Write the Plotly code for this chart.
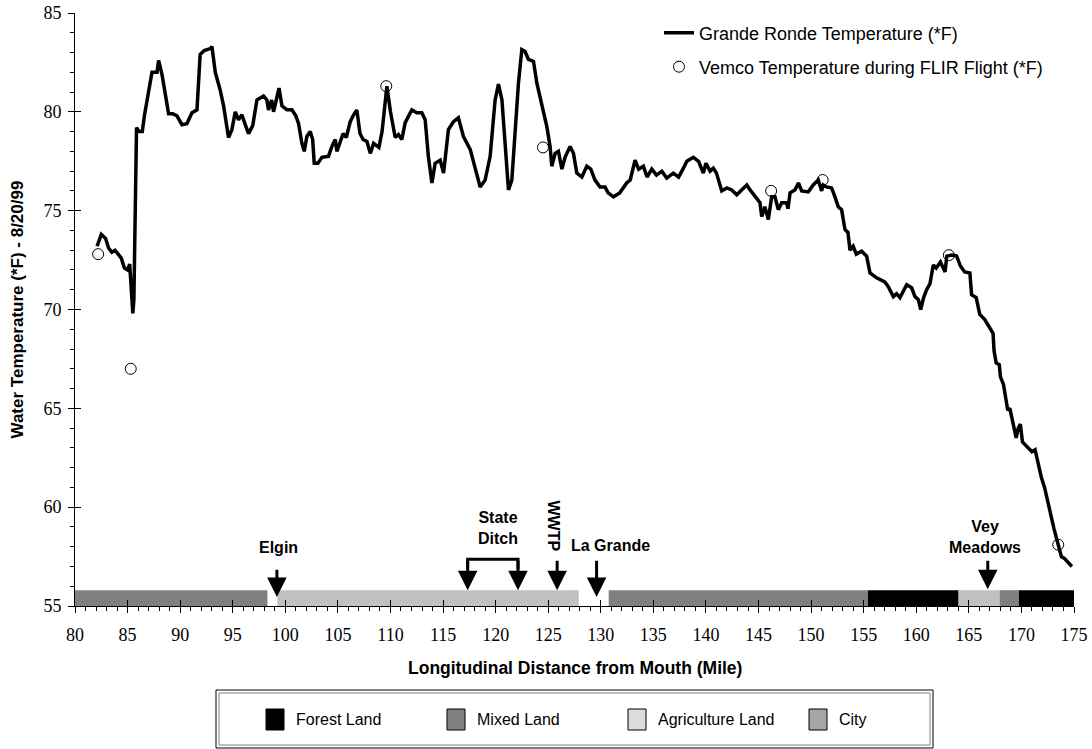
import plotly.graph_objects as go

# ---- Grande Ronde longitudinal temperature profile (8/20/99) ----
river_mile = [
    82.1, 82.5, 82.9, 83.2, 83.5, 83.8, 84.1, 84.4, 84.7, 85.0, 85.2, 85.35, 85.5, 85.6, 85.7, 85.8,
    85.85, 86.1, 86.4, 86.6, 86.84, 87.1, 87.32, 87.8, 87.95, 88.27, 88.58, 88.9, 89.3, 89.7, 90.17,
    90.64, 91.12, 91.6, 91.9, 92.29, 92.86, 93.02, 93.34, 93.81, 94.13, 94.6, 94.92, 95.24, 95.55,
    95.87, 96.19, 96.5, 96.9, 97.3, 97.93, 98.25, 98.4, 98.7, 98.88, 99.2, 99.4, 99.68, 100.15,
    100.63, 101.0, 101.26, 101.58, 101.8, 102.05, 102.37, 102.6, 102.75, 103.1, 103.48, 104.1,
    104.43, 104.75, 104.9, 105.2, 105.5, 105.8, 106.17, 106.5, 106.8, 107.1, 107.4, 107.76, 108.08,
    108.4, 108.9, 109.2, 109.66, 110.0, 110.45, 110.76, 111.08, 111.4, 112.03, 112.5, 112.98, 113.3,
    113.6, 113.94, 114.25, 114.73, 115.05, 115.51, 115.99, 116.46, 116.94, 117.58, 118.05, 118.53,
    119.0, 119.48, 119.95, 120.27, 120.6, 120.9, 121.22, 121.54, 121.86, 122.17, 122.49, 122.8,
    123.12, 123.6, 123.92, 124.4, 124.87, 125.18, 125.34, 125.66, 125.97, 126.3, 126.6, 127.08,
    127.4, 127.72, 128.2, 128.67, 129.05, 129.45, 129.93, 130.4, 130.7, 131.2, 131.8, 132.46, 132.8,
    133.26, 133.6, 134.05, 134.4, 134.85, 135.3, 135.8, 136.27, 136.9, 137.4, 137.86, 138.18, 138.8,
    139.3, 139.75, 140.0, 140.39, 140.7, 141.0, 141.5, 141.98, 142.45, 142.93, 143.4, 143.88, 144.2,
    144.67, 145.14, 145.3, 145.6, 145.93, 146.25, 146.56, 146.88, 147.2, 147.67, 147.8, 148.0, 148.46,
    148.8, 149.1, 149.73, 150.2, 150.68, 151.0, 151.15, 151.47, 151.95, 152.27, 152.58, 152.9, 153.22,
    153.5, 153.7, 154.0, 154.3, 154.8, 155.28, 155.6, 156.23, 157.0, 157.34, 157.82, 158.13, 158.45,
    159.09, 159.56, 159.88, 160.2, 160.42, 160.7, 160.99, 161.3, 161.62, 161.9, 162.3, 162.74, 162.9,
    163.4, 163.84, 164.2, 164.6, 165.1, 165.26, 165.7, 166.04, 166.5, 167.0, 167.3, 167.4, 167.6,
    167.9, 168.0, 168.3, 168.5, 168.7, 168.9, 169.2, 169.5, 169.7, 169.9, 170.1, 170.6, 171.0, 171.3,
    171.6, 171.9, 172.2, 172.5, 172.8, 173.1, 173.4, 173.6, 173.8, 174.1, 174.5, 174.8,
]
water_temp_f = [
    73.2, 73.8, 73.6, 73.1, 72.9, 73.0, 72.8, 72.6, 72.1, 72.0, 72.3, 71.0, 69.8, 70.5, 73.5, 77.0,
    79.2, 79.0, 79.0, 79.8, 80.6, 81.3, 82.0, 82.0, 82.6, 81.9, 80.8, 79.9, 79.9, 79.8, 79.35,
    79.4, 79.95, 80.1, 82.9, 83.1, 83.2, 83.3, 82.0, 81.1, 80.3, 78.7, 79.1, 80.0, 79.6,
    79.85, 79.35, 78.9, 79.3, 80.6, 80.8, 80.6, 80.1, 80.6, 80.0, 80.8, 81.2, 80.3, 80.1,
    80.1, 79.8, 79.4, 78.4, 78.0, 78.75, 79.0, 78.6, 77.4, 77.4, 77.7, 77.75,
    78.25, 78.6, 78.0, 78.5, 78.9, 78.7, 79.5, 79.85, 80.1, 78.9, 78.6, 78.5, 77.9,
    78.4, 78.2, 79.0, 81.3, 80.0, 78.7, 78.85, 78.6, 79.45, 80.1, 79.95, 79.95, 79.6,
    77.75, 76.4, 77.4, 77.55, 76.9, 79.1, 79.5, 79.7, 78.75, 78.1, 77.1, 76.2,
    76.55, 77.75, 80.6, 81.4, 80.6, 78.1, 76.05, 76.55, 78.9, 81.45, 83.15, 83.05,
    82.65, 82.55, 81.45, 80.25, 79.25, 78.25, 77.25, 77.9, 78.0, 77.1, 77.7, 78.25,
    77.9, 76.9, 76.7, 77.25, 77.1, 76.55, 76.2, 76.2, 75.9, 75.7, 75.9, 76.4, 76.55,
    77.55, 77.1, 77.25, 76.7, 77.1, 76.8, 77.0, 76.65, 76.9, 76.7, 77.15, 77.5, 77.7,
    77.5, 76.9, 77.4, 77.0, 77.15, 76.9, 76.0, 76.15, 76.05, 75.8, 76.05, 76.3, 76.05,
    75.7, 75.4, 74.7, 75.2, 74.55, 75.7, 75.7, 75.05, 75.4, 75.4, 75.1, 75.9, 76.05,
    76.4, 76.0, 75.95, 76.3, 76.55, 76.0, 76.3, 76.2, 76.15, 75.7, 75.2, 75.05, 74.05,
    73.9, 73.0, 73.2, 72.8, 72.95, 72.7, 71.85, 71.6, 71.4, 71.15, 70.65, 70.8, 70.6,
    71.25, 71.1, 70.65, 70.5, 70.0, 70.6, 71.0, 71.3, 72.25, 72.1, 72.4, 71.9, 72.7,
    72.75, 72.7, 72.2, 71.9, 71.85, 70.75, 70.6, 69.75, 69.5, 69.1, 68.8, 67.9, 67.3,
    67.2, 66.6, 66.2, 65.5, 64.9, 65.0, 64.2, 63.5, 64.0, 64.2, 63.3, 63.0, 62.8, 62.9,
    62.2, 61.5, 61.0, 60.2, 59.6, 58.9, 58.3, 58.0, 57.5, 57.4, 57.2, 57.0,
]

# Vemco logger readings taken during the FLIR flight
vemco_mile = [82.2, 85.3, 109.6, 124.5, 146.2, 151.1, 163.1, 173.5]
vemco_temp_f = [72.8, 67.0, 81.3, 78.2, 76.0, 76.55, 72.75, 58.1]

# Land use along the river: (start mile, end mile)
land_forest = [(155.4, 164.0), (169.75, 175.55)]
land_mixed = [(80.0, 98.3), (130.75, 155.4), (167.9, 169.75)]
land_agriculture = [(99.25, 127.9), (164.0, 167.9)]

land_names = ["Forest Land", "Mixed Land", "Agriculture Land", "City"]
land_swatch_colors = ["#000000", "#808080", "#dcdcdc", "#a6a6a6"]

# Landmarks: (label, mile, arrow tail temp, arrow tip temp)
landmarks = [
    ("Elgin", 99.2, 56.91, 55.45),
    ("State Ditch", 117.34, 57.37, 55.8),
    ("State Ditch", 122.13, 57.37, 55.8),
    ("WWTP", 125.85, 57.37, 55.8),
    ("La Grande", 129.6, 57.37, 55.45),
    ("Vey Meadows", 166.8, 57.37, 55.85),
]
landmark_labels = [
    # text, mile, temp, angle
    ("Elgin", 99.35, 57.97, 0),
    ("State<br>Ditch", 120.2, 58.95, 0),
    ("WWTP", 125.5, 59.05, 90),
    ("La Grande", 130.93, 58.08, 0),
    ("Vey<br>Meadows", 166.5, 58.48, 0),
]

BAND_CENTER = 55.4
BAND_HEIGHT = 0.8

SANS = "Liberation Sans, Arial, sans-serif"
SERIF = "Liberation Serif, Times New Roman, serif"

fig = go.Figure()


def land_bar(segments, color):
    return go.Bar(
        orientation="h",
        y=[BAND_CENTER] * len(segments),
        base=[s for s, _ in segments],
        x=[e - s for s, e in segments],
        width=BAND_HEIGHT,
        marker=dict(color=color, line=dict(width=0)),
        cliponaxis=False,
        showlegend=False,
        hoverinfo="skip",
    )


fig.add_trace(land_bar(land_mixed, "#808080"))
fig.add_trace(land_bar(land_agriculture, "#c0c0c0"))
fig.add_trace(land_bar(land_forest, "#000000"))

fig.add_trace(go.Scatter(
    x=river_mile, y=water_temp_f, mode="lines",
    line=dict(color="black", width=3.5),
    name="Grande Ronde Temperature (*F)",
    legend="legend",
))
fig.add_trace(go.Scatter(
    x=vemco_mile, y=vemco_temp_f, mode="markers",
    marker=dict(symbol="circle-open", size=11, color="black", line=dict(width=1, color="black")),
    name="Vemco Temperature during FLIR Flight (*F)",
    legend="legend2",
))

# companion axes carrying the inward half of the major ticks
fig.add_trace(go.Scatter(x=[None], y=[None], xaxis="x2", yaxis="y2",
                         showlegend=False, hoverinfo="skip"))

# landmark arrows
for label, mile, tail, tip in landmarks:
    fig.add_annotation(
        x=mile, y=tip, ax=mile, ay=tail, xref="x", yref="y", axref="x", ayref="y",
        text="", showarrow=True, arrowhead=2, arrowsize=1.3, arrowwidth=3,
        arrowcolor="black",
    )

# bracket joining the two State Ditch arrows
sd = [m for lbl, m, _, _ in landmarks if lbl == "State Ditch"]
sd_top = [t for lbl, _, t, _ in landmarks if lbl == "State Ditch"][0]
fig.add_shape(
    type="path", xref="x", yref="y",
    path=f"M {sd[0]} {sd_top - 0.5} L {sd[0]} {sd_top} L {sd[1]} {sd_top} L {sd[1]} {sd_top - 0.5}",
    line=dict(color="black", width=3),
)

for text, mile, temp, angle in landmark_labels:
    fig.add_annotation(
        x=mile, y=temp, xref="x", yref="y", text=f"<b>{text}</b>",
        showarrow=False, textangle=angle,
        font=dict(family=SANS, size=16, color="black"),
        xanchor="center", yanchor="middle",
    )

# ---- land-use key below the chart (paper coordinates) ----
PLOT_L, PLOT_R, PLOT_T, PLOT_B = 75, 1074, 13, 606


def px_x(px):
    return (px - PLOT_L) / (PLOT_R - PLOT_L)


def px_y(py):
    return 1 - (py - PLOT_T) / (PLOT_B - PLOT_T)


fig.add_shape(type="rect", xref="paper", yref="paper",
              x0=px_x(216), x1=px_x(933), y0=px_y(748), y1=px_y(690),
              line=dict(color="black", width=1), fillcolor="white")
fig.add_shape(type="rect", xref="paper", yref="paper",
              x0=px_x(219), x1=px_x(930), y0=px_y(745), y1=px_y(693),
              line=dict(color="#808080", width=1))

for i, (name, col) in enumerate(zip(land_names, land_swatch_colors)):
    sx = 266 + 181 * i
    fig.add_shape(type="rect", xref="paper", yref="paper",
                  x0=px_x(sx), x1=px_x(sx + 18), y0=px_y(730), y1=px_y(709),
                  line=dict(color="black", width=1), fillcolor=col)
    fig.add_annotation(x=px_x(sx + 28), y=px_y(719.5), xref="paper", yref="paper",
                       text=name, showarrow=False, xanchor="left", yanchor="middle",
                       font=dict(family=SANS, size=16, color="black"))

# axis titles
fig.add_annotation(x=0.5, y=px_y(668), xref="paper", yref="paper",
                   text="<b>Longitudinal Distance from Mouth (Mile)</b>",
                   showarrow=False, xanchor="center", yanchor="middle",
                   font=dict(family=SANS, size=17.5, color="black"))
fig.add_annotation(x=px_x(17), y=0.5, xref="paper", yref="paper",
                   text="<b>Water Temperature (*F) - 8/20/99</b>", textangle=-90,
                   showarrow=False, xanchor="center", yanchor="middle",
                   font=dict(family=SANS, size=17, color="black"))

axis_common = dict(showgrid=False, zeroline=False, showline=True, linecolor="black",
                   linewidth=1, ticks="outside", ticklen=6, tickwidth=1, tickcolor="black",
                   automargin=False,
                   tickfont=dict(family=SERIF, size=18, color="black"))

fig.update_layout(
    width=1092, height=749,
    margin=dict(l=PLOT_L, r=1092 - PLOT_R, t=PLOT_T, b=749 - PLOT_B, autoexpand=False),
    plot_bgcolor="white", paper_bgcolor="white",
    barmode="overlay",
    xaxis=dict(range=[80, 175], tickmode="linear", tick0=80, dtick=5,
               ticklabelstandoff=6,
               minor=dict(dtick=1, tick0=80, ticks="outside", ticklen=4,
                          tickcolor="black", tickwidth=1, showgrid=False),
               **axis_common),
    yaxis=dict(range=[55, 85], tickmode="linear", tick0=55, dtick=5,
               ticklabelstandoff=3,
               minor=dict(dtick=1, tick0=55, ticks="outside", ticklen=4,
                          tickcolor="black", tickwidth=1, showgrid=False),
               **axis_common),
    xaxis2=dict(overlaying="x", anchor="y2", range=[80, 175], tickmode="linear",
                tick0=80, dtick=5, ticks="inside", ticklen=6, tickcolor="black",
                automargin=False,
                showticklabels=False, showgrid=False, zeroline=False, showline=False),
    yaxis2=dict(overlaying="y", anchor="x2", range=[55, 85], tickmode="linear",
                tick0=55, dtick=5, ticks="inside", ticklen=6, tickcolor="black",
                automargin=False,
                showticklabels=False, showgrid=False, zeroline=False, showline=False),
    legend=dict(x=px_x(659), y=px_y(33), xanchor="left", yanchor="middle",
                bgcolor="rgba(0,0,0,0)", borderwidth=0,
                font=dict(family=SANS, size=18, color="black")),
    legend2=dict(x=px_x(659), y=px_y(67), xanchor="left", yanchor="middle",
                 bgcolor="rgba(0,0,0,0)", borderwidth=0,
                 font=dict(family=SANS, size=18, color="black")),
)

fig.write_html("out.html")
